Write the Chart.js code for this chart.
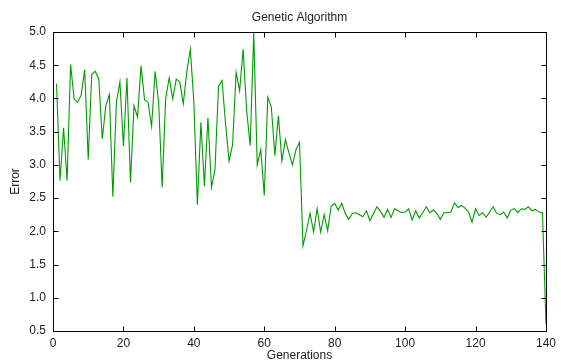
<!DOCTYPE html>
<html>
<head>
<meta charset="utf-8">
<script src="https://cdn.jsdelivr.net/npm/chart.js@4/dist/chart.umd.min.js"></script>
<style>
    html, body { margin: 0; padding: 0; background: #fff; }
    #wrap { width: 561px; height: 364px; }
</style>
</head>
<body>
<div id="wrap"><canvas id="gaChart" width="561" height="364"></canvas></div>
<script>
// best error per generation of the GA run
const errors = [
    4.22, 2.76, 3.56, 2.76, 4.51, 3.99, 3.94, 4.05, 4.43, 3.08,
    4.36, 4.41, 4.29, 3.39, 3.89, 4.06, 2.52, 3.94, 4.25, 3.28,
    4.31, 2.74, 3.89, 3.72, 4.49, 3.98, 3.94, 3.58, 4.41, 3.94,
    2.66, 4.00, 4.31, 3.99, 4.29, 4.25, 3.92, 4.40, 4.74, 3.95,
    2.40, 3.64, 2.68, 3.71, 2.66, 2.93, 4.18, 4.27, 3.62, 3.06,
    3.30, 4.39, 4.12, 4.74, 3.81, 3.29, 4.99, 3.00, 3.23, 2.54,
    4.02, 3.87, 3.14, 3.74, 3.06, 3.38, 3.18, 3.00, 3.23, 3.34,
    1.78, 2.02, 2.27, 1.99, 2.34, 1.99, 2.25, 2.01, 2.38, 2.42,
    2.32, 2.42, 2.27, 2.18, 2.27, 2.28, 2.25, 2.22, 2.31, 2.16,
    2.27, 2.37, 2.30, 2.21, 2.33, 2.21, 2.34, 2.31, 2.28, 2.29,
    2.34, 2.17, 2.31, 2.20, 2.28, 2.37, 2.28, 2.32, 2.27, 2.18,
    2.28, 2.28, 2.29, 2.43, 2.36, 2.39, 2.35, 2.29, 2.14, 2.34,
    2.24, 2.28, 2.21, 2.29, 2.37, 2.27, 2.25, 2.29, 2.20, 2.32,
    2.34, 2.28, 2.34, 2.33, 2.37, 2.31, 2.33, 2.29, 2.28, 0.60
];
// generations run 1..N
const generations = errors.map((_, i) => i + 1);

const xTicks = [0, 20, 40, 60, 80, 100, 120, 140];
const yTicks = [0.5, 1, 1.5, 2, 2.5, 3, 3.5, 4, 4.5, 5];

const textColor = '#222';
const fontFamily = '"Liberation Sans", Arial, Helvetica, sans-serif';

// box around the plot with inward tick marks on all four sides
const frameTicks = {
    id: 'frameTicks',
    afterDatasetsDraw(chart) {
        const { ctx, chartArea: a, scales: { x, y } } = chart;
        const L = Math.round(a.left) + 0.5, R = Math.round(a.right) + 0.5;
        const T = Math.round(a.top) + 0.5, B = Math.round(a.bottom) + 0.5;
        const len = 5;
        ctx.save();
        ctx.strokeStyle = '#000';
        ctx.lineWidth = 1;
        ctx.beginPath();
        xTicks.forEach(v => {
            const px = Math.round(x.getPixelForValue(v)) + 0.5;
            ctx.moveTo(px, B); ctx.lineTo(px, B - len);
            ctx.moveTo(px, T); ctx.lineTo(px, T + len);
        });
        yTicks.forEach(v => {
            const py = Math.round(y.getPixelForValue(v)) + 0.5;
            ctx.moveTo(L, py); ctx.lineTo(L + len, py);
            ctx.moveTo(R, py); ctx.lineTo(R - len, py);
        });
        ctx.stroke();
        ctx.strokeRect(L, T, R - L, B - T);
        ctx.restore();
    }
};

document.addEventListener('DOMContentLoaded', () => {
    const ctx = document.getElementById('gaChart').getContext('2d');

    new Chart(ctx, {
        type: 'line',
        data: {
            datasets: [{
                label: 'Error',
                data: generations.map((g, i) => ({ x: g, y: errors[i] })),
                borderColor: '#009a00',
                borderWidth: 1.1,
                pointRadius: 0,
                tension: 0,
                fill: false
            }]
        },
        options: {
            responsive: false,
            animation: false,
            layout: { padding: { top: 0, right: 13, bottom: 0, left: 0 } },
            plugins: {
                legend: { display: false },
                tooltip: { enabled: false },
                title: {
                    display: true,
                    text: 'Genetic Algorithm',
                    fullSize: false,
                    color: textColor,
                    font: { family: fontFamily, size: 12, weight: 'normal' },
                    padding: { top: 10, bottom: 7.6 }
                }
            },
            scales: {
                x: {
                    type: 'linear',
                    min: 0,
                    max: 140,
                    grid: { display: false, drawTicks: false },
                    border: { display: false },
                    afterBuildTicks: scale => { scale.ticks = xTicks.map(v => ({ value: v })); },
                    afterFit: scale => { scale.height = 33; },
                    ticks: {
                        color: textColor,
                        font: { family: fontFamily, size: 12 },
                        padding: 5,
                        maxRotation: 0,
                        autoSkip: false
                    },
                    title: {
                        display: true,
                        text: 'Generations',
                        color: textColor,
                        font: { family: fontFamily, size: 12 },
                        padding: { top: 0, bottom: 1 }
                    }
                },
                y: {
                    type: 'linear',
                    min: 0.5,
                    max: 5,
                    grid: { display: false, drawTicks: false },
                    border: { display: false },
                    afterBuildTicks: scale => { scale.ticks = yTicks.map(v => ({ value: v })); },
                    afterFit: scale => { scale.width = 53; },
                    ticks: {
                        color: textColor,
                        font: { family: fontFamily, size: 12 },
                        padding: 7,
                        autoSkip: false
                    },
                    title: {
                        display: true,
                        text: 'Error',
                        color: textColor,
                        font: { family: fontFamily, size: 12 },
                        padding: { top: 8, bottom: 0 }
                    }
                }
            }
        },
        plugins: [frameTicks]
    });
});
</script>
</body>
</html>
